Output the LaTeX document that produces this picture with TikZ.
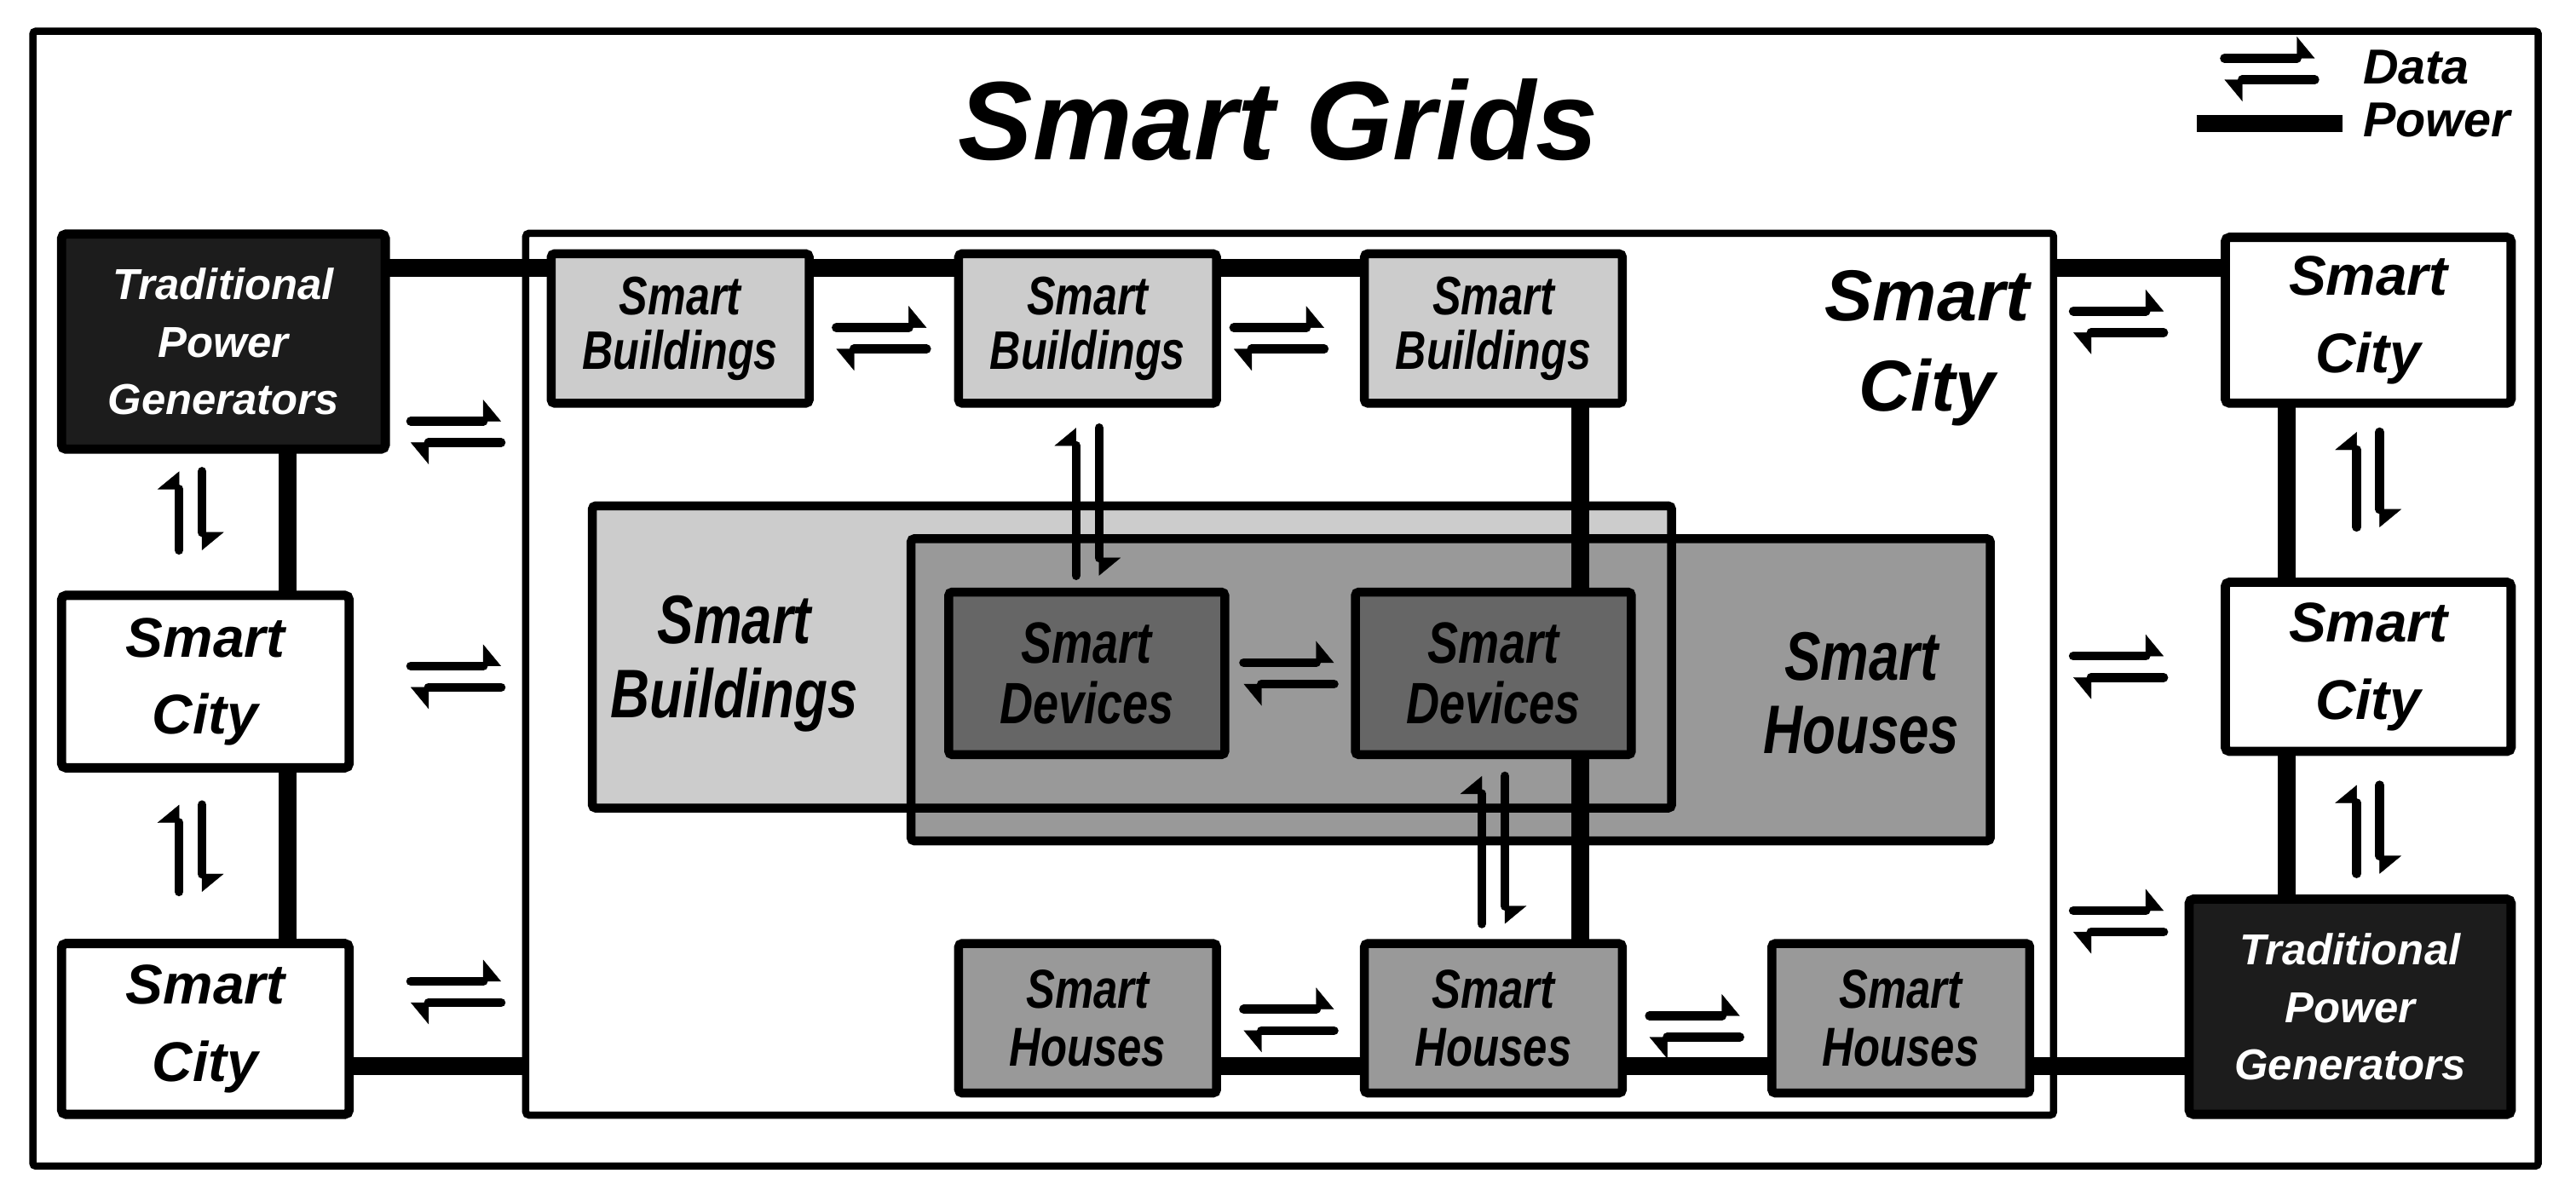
\documentclass[tikz,border=0pt]{standalone}
\usepackage{fontspec}
\setmainfont{Liberation Sans}
\newfontfamily\cnd[FakeStretch=0.79]{Liberation Sans}
\usetikzlibrary{arrows.meta,calc}
\definecolor{tpgfill}{HTML}{1C1C1C}
\definecolor{sbfill}{HTML}{CCCCCC}
\definecolor{shfill}{HTML}{999999}
\definecolor{sdfill}{HTML}{666666}
\newcommand\fsz[2]{\fontsize{#1}{#2}\selectfont}
% horizontal data pair: anchor, dx, dy (pair centre), length 55
\newcommand\hpair[3]{%
  \draw[dataline] ($(#1)+(#2,#3-6.5)$) -- ++(55,0);
  \draw[dataline] ($(#1)+(#2+55,#3+6.5)$) -- ++(-55,0);}
% vertical data pair: anchor, dx (pair centre), dy (top), length
\newcommand\vpair[4]{%
  \draw[dataline] ($(#1)+(#2-7,#3+#4)$) -- ++(0,-#4);
  \draw[dataline] ($(#1)+(#2+7,#3)$) -- ++(0,#4);}
\begin{document}
\begin{tikzpicture}[x=0.02cm,y=-0.02cm,
  sz/.style 2 args={minimum width=#1*0.02cm, minimum height=#2*0.02cm},
  sidebox/.style={draw, line width=3.2pt, rounded corners=1.5pt, inner sep=0pt, outer sep=0pt, align=center, fill=white},
  tpgbox/.style={sidebox, fill=tpgfill, text=white, font=\bfseries\itshape\fsz{15}{19.9}},
  citybox/.style={sidebox, font=\bfseries\itshape\fsz{19.4}{26.7}},
  bigbox/.style={draw, line width=2.5pt, rounded corners=1.2pt, inner sep=0pt, outer sep=0pt, fill=white},
  innerbox/.style={draw, line width=3.1pt, rounded corners=1.2pt, inner sep=0pt, outer sep=0pt, align=center},
  sbbox/.style={innerbox, fill=sbfill, font=\cnd\bfseries\itshape\fsz{18.8}{18.8}},
  sdbox/.style={innerbox, fill=sdfill, font=\cnd\bfseries\itshape\fsz{20.2}{21}},
  shbox/.style={innerbox, fill=shfill, font=\cnd\bfseries\itshape\fsz{19}{20}},
  regionfill/.style={draw=none, inner sep=0pt, outer sep=0pt},
  regionbox/.style={innerbox},
  regionborder/.style={line width=3.1pt, rounded corners=1.2pt},
  reglabel/.style={align=center, inner sep=0pt, font=\cnd\bfseries\itshape\fsz{23.8}{25.6}},
  power/.style={line width=6.2pt},
  dataline/.style={line width=3.1pt, line cap=round,
    -{Triangle[left, length=6.2pt, width=15pt, line width=0.1pt]}},
  frame/.style={line width=2.5pt, rounded corners=1pt}
]
\useasboundingbox (0,0) rectangle (1568,728);
\fill[white] (0,0) rectangle (1568,728);
\draw[frame] (20,19) rectangle (1545,710);

% title and legend
\node[anchor=base, inner sep=0pt, font=\bfseries\itshape\fsz{38.7}{46}] (title) at (778,97) {Smart Grids};
\node[anchor=base west, inner sep=0pt, font=\bfseries\itshape\fsz{17}{20}] (lgData) at (1438,51) {Data};
\node[anchor=base west, inner sep=0pt, font=\bfseries\itshape\fsz{17}{20}] (lgPower) at (1438,83) {Power};

% left column
\node[tpgbox, sz={197}{131}] (tpgL) at (136,208) {Traditional\\Power\\Generators};
\node[citybox, sz={175}{105}] (scL1) at (125,415) {Smart\\City};
\node[citybox, sz={175}{104}] (scL2) at (125,626.5) {Smart\\City};

% right column
\node[citybox, sz={174}{101}] (scR1) at (1441.5,195) {Smart\\City};
\node[citybox, sz={174}{103}] (scR2) at (1441.5,406) {Smart\\City};
\node[tpgbox, sz={196}{131}] (tpgR) at (1430.5,613) {Traditional\\Power\\Generators};

% central smart city
\node[bigbox, sz={930}{537}] (city) at (785,410.5) {};
\node[align=center, inner sep=0pt, font=\bfseries\itshape\fsz{25}{31.3}] (cityLabel) at (1173,212) {Smart\\City};

% regions
\node[regionfill, fill=sbfill, sz={657}{184}] (sbreg) at (689,400) {};
\node[regionbox, fill=shfill, sz={657}{184}] (shreg) at (883,420) {};
\draw[regionborder] (sbreg.north west) rectangle (sbreg.south east);
\node[reglabel] (sbLabel) at (447,404) {Smart\\Buildings};
\node[reglabel] (shLabel) at (1133,422) {Smart\\Houses};

% inner boxes
\node[sbbox, sz={157}{91}] (sb1) at (414,200) {Smart\\Buildings};
\node[sbbox, sz={157}{91}] (sb2) at (662,200) {Smart\\Buildings};
\node[sbbox, sz={157}{91}] (sb3) at (909,200) {Smart\\Buildings};
\node[sdbox, sz={168}{99}] (sd1) at (661.5,410) {Smart\\Devices};
\node[sdbox, sz={168}{99}] (sd2) at (909,410) {Smart\\Devices};
\node[shbox, sz={157}{91}] (sh1) at (662,620) {Smart\\Houses};
\node[shbox, sz={157}{91}] (sh2) at (909,620) {Smart\\Houses};
\node[shbox, sz={157}{91}] (sh3) at (1157,620) {Smart\\Houses};

% power lines
\coordinate (pT) at (0,163);
\coordinate (pB) at (0,649);
\coordinate (xL) at (175,0);
\coordinate (xM) at (962,0);
\coordinate (xR) at (1392,0);
\draw[power] (tpgL.east |- pT) -- (sb1.west |- pT);
\draw[power] (sb1.east |- pT) -- (sb2.west |- pT);
\draw[power] (sb2.east |- pT) -- (sb3.west |- pT);
\draw[power] (city.east |- pT) -- (scR1.west |- pT);
\draw[power] (scL2.east |- pB) -- (city.west |- pB);
\draw[power] (sh1.east |- pB) -- (sh2.west |- pB);
\draw[power] (sh2.east |- pB) -- (sh3.west |- pB);
\draw[power] (sh3.east |- pB) -- (tpgR.west |- pB);
\draw[power] (tpgL.south -| xL) -- (scL1.north -| xL);
\draw[power] (scL1.south -| xL) -- (scL2.north -| xL);
\draw[power] (sb3.south -| xM) -- (sd2.north -| xM);
\draw[power] (sd2.south -| xM) -- (sh2.north -| xM);
\draw[power] (scR1.south -| xR) -- (scR2.north -| xR);
\draw[power] (scR2.south -| xR) -- (tpgR.north -| xR);

% data links
\hpair{tpgL.east}{15.5}{55}
\hpair{scL1.east}{37.5}{-3}
\hpair{scL2.east}{37.5}{-22.5}
\hpair{sb1.east}{16.5}{6}
\hpair{sb2.east}{10.5}{6}
\hpair{sd1.east}{11.5}{0}
\hpair{sh1.east}{16.5}{1}
\hpair{sh2.east}{16.5}{5}
\hpair{scR1.west}{-92.5}{1}
\hpair{scR2.west}{-92.5}{0}
\hpair{tpgR.west}{-70.5}{-52}
\vpair{tpgL.south}{-20}{13.5}{48}
\vpair{scL1.south}{-9}{22.5}{53}
\vpair{sb2.south}{0}{15}{90}
\vpair{sd2.south}{0}{13}{90}
\vpair{scR1.south}{0}{17.5}{58}
\vpair{scR2.south}{0}{20.5}{54}

% legend symbols
\hpair{lgData.base west}{-84}{-9}
\draw[power, line width=5.9pt] ($(lgPower.base west)+(-101,-8)$) -- ++(89,0);
\end{tikzpicture}
\end{document}
